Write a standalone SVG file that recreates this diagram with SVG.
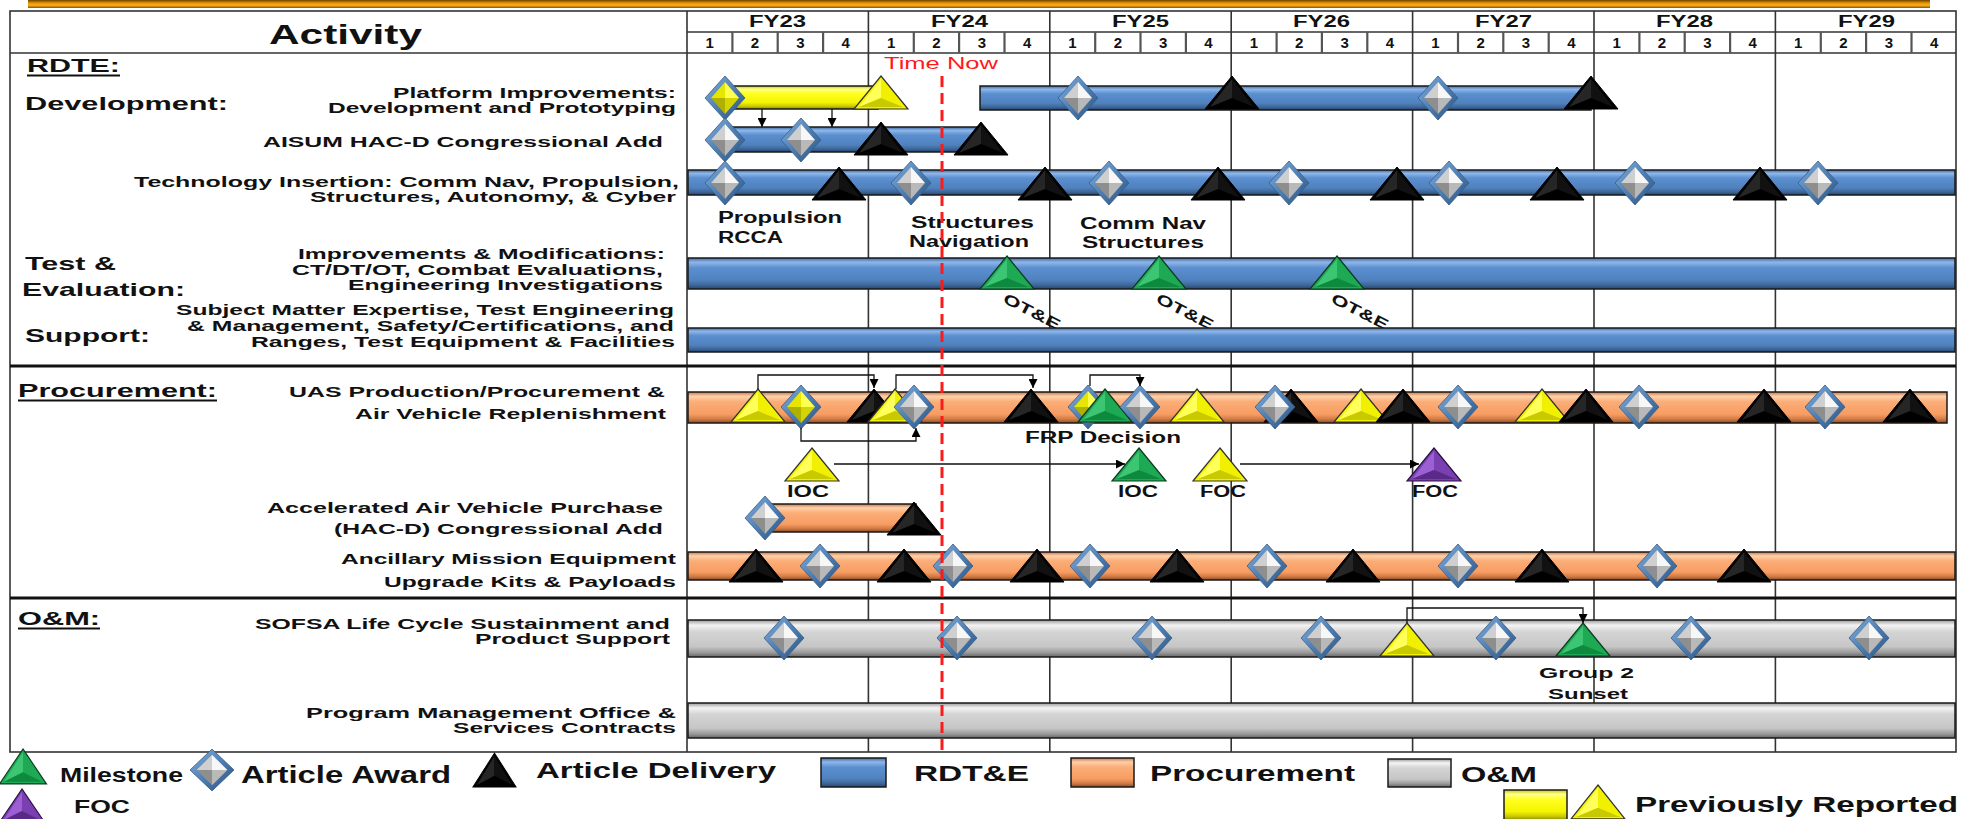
<svg xmlns="http://www.w3.org/2000/svg" xmlns:xlink="http://www.w3.org/1999/xlink" width="1988" height="819" viewBox="0 0 1988 819">
<style>
.t{font-family:"Liberation Sans",Arial,sans-serif;font-weight:bold;fill:#111}
.r{font-family:"Liberation Sans",Arial,sans-serif;fill:#ff1a1a}
.s14{font-size:14px}.s15{font-size:15px}.s16{font-size:16px}.s18{font-size:18px}.s19{font-size:19px}.s20{font-size:20px}.s22{font-size:22px}.s24{font-size:24px}.s27{font-size:27px}
.bar{stroke:#1a1a1a;stroke-width:1.5}
.grid{stroke:#333;stroke-width:1.6;fill:none}
.qd{stroke:#555;stroke-width:2.2}
.div{stroke:#111;stroke-width:3}
.con{stroke:#111;stroke-width:1.3;fill:none}
</style>
<defs>
<linearGradient id="gBlue" x1="0" y1="0" x2="0" y2="1"><stop offset="0" stop-color="#3f6ea8"/><stop offset="0.14" stop-color="#8fb6e8"/><stop offset="0.32" stop-color="#5b8fd0"/><stop offset="0.72" stop-color="#4f81bd"/><stop offset="0.88" stop-color="#3d6697"/><stop offset="1" stop-color="#23446e"/></linearGradient>
<linearGradient id="gOr" x1="0" y1="0" x2="0" y2="1"><stop offset="0" stop-color="#c8784a"/><stop offset="0.14" stop-color="#ffd0a8"/><stop offset="0.32" stop-color="#fbad78"/><stop offset="0.72" stop-color="#f79d62"/><stop offset="0.88" stop-color="#cf7a45"/><stop offset="1" stop-color="#8a4a22"/></linearGradient>
<linearGradient id="gGr" x1="0" y1="0" x2="0" y2="1"><stop offset="0" stop-color="#9a9a9a"/><stop offset="0.14" stop-color="#f4f4f4"/><stop offset="0.32" stop-color="#d4d4d4"/><stop offset="0.72" stop-color="#c6c6c6"/><stop offset="0.88" stop-color="#9a9a9a"/><stop offset="1" stop-color="#666"/></linearGradient>
<linearGradient id="gYe" x1="0" y1="0" x2="0" y2="1"><stop offset="0" stop-color="#c8c800"/><stop offset="0.14" stop-color="#ffff90"/><stop offset="0.32" stop-color="#ffff20"/><stop offset="0.72" stop-color="#f4f400"/><stop offset="0.88" stop-color="#c8c800"/><stop offset="1" stop-color="#8a8a00"/></linearGradient>
<linearGradient id="gTop" x1="0" y1="0" x2="0" y2="1"><stop offset="0" stop-color="#6b4300"/><stop offset="0.35" stop-color="#e09000"/><stop offset="0.65" stop-color="#ffb020"/><stop offset="1" stop-color="#8a5500"/></linearGradient>
<linearGradient id="gEdge" x1="0" y1="0" x2="1" y2="1"><stop offset="0" stop-color="#86b0de"/><stop offset="0.5" stop-color="#4f7fb3"/><stop offset="1" stop-color="#2a5080"/></linearGradient>
<g id="dia"><polygon points="0,-22 20,0 0,22 -20,0" fill="url(#gEdge)" stroke="#355d88" stroke-width="0.8"/><polygon points="0,-16 -14,0 0,0" fill="#cfcfcf"/><polygon points="0,-16 14,0 0,0" fill="#f7f7f7"/><polygon points="-14,0 0,16 0,0" fill="#8e8e8e"/><polygon points="14,0 0,16 0,0" fill="#b9b9b9"/></g>
<g id="diaY"><polygon points="0,-22 20,0 0,22 -20,0" fill="url(#gEdge)" stroke="#355d88" stroke-width="0.8"/><polygon points="0,-16 -14,0 0,0" fill="#e6e600"/><polygon points="0,-16 14,0 0,0" fill="#ffff50"/><polygon points="-14,0 0,16 0,0" fill="#b0b000"/><polygon points="14,0 0,16 0,0" fill="#d4d400"/></g>
<g id="triK"><polygon points="0,0 27,33 -27,33" fill="#000" stroke="#000" stroke-width="1"/><polygon points="0,3 -22,31 0,22" fill="#262626"/><polygon points="0,3 22,31 0,22" fill="#111"/></g>
<g id="triY"><polygon points="0,0 27,33 -27,33" fill="#f2f200" stroke="#333" stroke-width="1.2"/><polygon points="0,3 -22,31 0,22" fill="#ffff5a"/><polygon points="0,3 22,31 0,22" fill="#f0f000"/><polygon points="-22,31 22,31 0,22" fill="#c9c900"/></g>
<g id="triG"><polygon points="0,0 27,33 -27,33" fill="#1fa855" stroke="#0c3c1e" stroke-width="1.2"/><polygon points="0,3 -22,31 0,22" fill="#3cc673"/><polygon points="0,3 22,31 0,22" fill="#1eaa54"/><polygon points="-22,31 22,31 0,22" fill="#0e8a3e"/></g>
<g id="triP"><polygon points="0,0 27,33 -27,33" fill="#7a3fb0" stroke="#2a1040" stroke-width="1.2"/><polygon points="0,3 -22,31 0,22" fill="#9c60d4"/><polygon points="0,3 22,31 0,22" fill="#7a3fb0"/><polygon points="-22,31 22,31 0,22" fill="#5a2a88"/></g>
<marker id="arr" viewBox="0 0 10 10" refX="10" refY="5" markerWidth="9" markerHeight="9" markerUnits="userSpaceOnUse" orient="auto"><path d="M0,0 L10,5 L0,10 z" fill="#000"/></marker>
</defs>
<rect width="1988" height="819" fill="#fff"/>
<rect x="28" y="0" width="1902" height="8" fill="url(#gTop)"/>

<g id="grid">
<rect x="10" y="11" width="1946" height="741" class="grid"/>
<line x1="687" y1="32" x2="1956" y2="32" class="grid"/>
<line x1="10" y1="53" x2="1956" y2="53" class="grid"/>
<line x1="687" y1="11" x2="687" y2="752" class="grid"/>
<line x1="868.4" y1="11" x2="868.4" y2="752" class="grid"/>
<line x1="1049.8" y1="11" x2="1049.8" y2="752" class="grid"/>
<line x1="1231.2" y1="11" x2="1231.2" y2="752" class="grid"/>
<line x1="1412.6" y1="11" x2="1412.6" y2="752" class="grid"/>
<line x1="1594" y1="11" x2="1594" y2="752" class="grid"/>
<line x1="1775.4" y1="11" x2="1775.4" y2="752" class="grid"/>
<g class="qd">
<line x1="732.4" y1="32" x2="732.4" y2="53"/><line x1="777.7" y1="32" x2="777.7" y2="53"/><line x1="823.1" y1="32" x2="823.1" y2="53"/>
<line x1="913.8" y1="32" x2="913.8" y2="53"/><line x1="959.1" y1="32" x2="959.1" y2="53"/><line x1="1004.5" y1="32" x2="1004.5" y2="53"/>
<line x1="1095.2" y1="32" x2="1095.2" y2="53"/><line x1="1140.5" y1="32" x2="1140.5" y2="53"/><line x1="1185.9" y1="32" x2="1185.9" y2="53"/>
<line x1="1276.6" y1="32" x2="1276.6" y2="53"/><line x1="1321.9" y1="32" x2="1321.9" y2="53"/><line x1="1367.3" y1="32" x2="1367.3" y2="53"/>
<line x1="1458" y1="32" x2="1458" y2="53"/><line x1="1503.3" y1="32" x2="1503.3" y2="53"/><line x1="1548.7" y1="32" x2="1548.7" y2="53"/>
<line x1="1639.4" y1="32" x2="1639.4" y2="53"/><line x1="1684.7" y1="32" x2="1684.7" y2="53"/><line x1="1730.1" y1="32" x2="1730.1" y2="53"/>
<line x1="1820.8" y1="32" x2="1820.8" y2="53"/><line x1="1866.1" y1="32" x2="1866.1" y2="53"/><line x1="1911.5" y1="32" x2="1911.5" y2="53"/>
</g>
<line x1="10" y1="366" x2="1956" y2="366" class="div"/>
<line x1="10" y1="598" x2="1956" y2="598" class="div"/>
</g>

<g id="header">
<text class="t s27" x="269" y="44" textLength="153" lengthAdjust="spacingAndGlyphs">Activity</text>
<text class="t s16" x="749" y="27" textLength="57" lengthAdjust="spacingAndGlyphs">FY23</text>
<text class="t s16" x="931" y="27" textLength="57" lengthAdjust="spacingAndGlyphs">FY24</text>
<text class="t s16" x="1112" y="27" textLength="57" lengthAdjust="spacingAndGlyphs">FY25</text>
<text class="t s16" x="1293" y="27" textLength="57" lengthAdjust="spacingAndGlyphs">FY26</text>
<text class="t s16" x="1475" y="27" textLength="57" lengthAdjust="spacingAndGlyphs">FY27</text>
<text class="t s16" x="1656" y="27" textLength="57" lengthAdjust="spacingAndGlyphs">FY28</text>
<text class="t s16" x="1838" y="27" textLength="57" lengthAdjust="spacingAndGlyphs">FY29</text>
<g class="t s15" text-anchor="middle">
<text x="709.7" y="48">1</text><text x="755" y="48">2</text><text x="800.4" y="48">3</text><text x="845.7" y="48">4</text>
<text x="891.1" y="48">1</text><text x="936.4" y="48">2</text><text x="981.8" y="48">3</text><text x="1027.1" y="48">4</text>
<text x="1072.5" y="48">1</text><text x="1117.8" y="48">2</text><text x="1163.2" y="48">3</text><text x="1208.5" y="48">4</text>
<text x="1253.9" y="48">1</text><text x="1299.2" y="48">2</text><text x="1344.6" y="48">3</text><text x="1389.9" y="48">4</text>
<text x="1435.3" y="48">1</text><text x="1480.6" y="48">2</text><text x="1526" y="48">3</text><text x="1571.3" y="48">4</text>
<text x="1616.7" y="48">1</text><text x="1662" y="48">2</text><text x="1707.4" y="48">3</text><text x="1752.7" y="48">4</text>
<text x="1798.1" y="48">1</text><text x="1843.4" y="48">2</text><text x="1888.8" y="48">3</text><text x="1934.1" y="48">4</text>
</g>
</g>

<g id="section-labels">
<text class="t s19" x="27" y="72" textLength="93" lengthAdjust="spacingAndGlyphs">RDTE:</text>
<line x1="27" y1="75.5" x2="120" y2="75.5" stroke="#111" stroke-width="1.8"/>
<text class="t s19" x="25" y="110" textLength="203" lengthAdjust="spacingAndGlyphs">Development:</text>
<text class="t s19" x="25" y="270" textLength="91" lengthAdjust="spacingAndGlyphs">Test &amp;</text>
<text class="t s19" x="22" y="296" textLength="163" lengthAdjust="spacingAndGlyphs">Evaluation:</text>
<text class="t s19" x="25" y="342" textLength="125" lengthAdjust="spacingAndGlyphs">Support:</text>
<text class="t s19" x="18" y="397" textLength="199" lengthAdjust="spacingAndGlyphs">Procurement:</text>
<line x1="18" y1="400.5" x2="217" y2="400.5" stroke="#111" stroke-width="1.8"/>
<text class="t s19" x="18" y="625" textLength="82" lengthAdjust="spacingAndGlyphs">O&amp;M:</text>
<line x1="18" y1="628.5" x2="100" y2="628.5" stroke="#111" stroke-width="1.8"/>
</g>

<g id="row-platform">
<text class="t s15" x="393" y="98" textLength="283" lengthAdjust="spacingAndGlyphs">Platform Improvements:</text>
<text class="t s15" x="328" y="113" textLength="348" lengthAdjust="spacingAndGlyphs">Development and Prototyping</text>
<rect class="bar" x="726" y="86" width="152" height="23" fill="url(#gYe)"/>
<rect class="bar" x="980" y="86" width="611" height="24" fill="url(#gBlue)"/>
</g>
<g id="row-aisum">
<text class="t s15" x="263" y="147" textLength="400" lengthAdjust="spacingAndGlyphs">AISUM HAC-D Congressional Add</text>
<rect class="bar" x="726" y="127" width="255" height="25" fill="url(#gBlue)"/>
</g>
<g id="row-tech">
<text class="t s15" x="134" y="186.5" textLength="545" lengthAdjust="spacingAndGlyphs">Technology Insertion: Comm Nav, Propulsion,</text>
<text class="t s15" x="310" y="201.5" textLength="366" lengthAdjust="spacingAndGlyphs">Structures, Autonomy, &amp; Cyber</text>
<rect class="bar" x="688" y="170" width="1267" height="25" fill="url(#gBlue)"/>
<text class="t s16" x="718" y="223" textLength="124" lengthAdjust="spacingAndGlyphs">Propulsion</text>
<text class="t s16" x="718" y="243" textLength="65" lengthAdjust="spacingAndGlyphs">RCCA</text>
<text class="t s16" x="911" y="228" textLength="123" lengthAdjust="spacingAndGlyphs">Structures</text>
<text class="t s16" x="909" y="247" textLength="120" lengthAdjust="spacingAndGlyphs">Navigation</text>
<text class="t s16" x="1080" y="229" textLength="126" lengthAdjust="spacingAndGlyphs">Comm Nav</text>
<text class="t s16" x="1082" y="248" textLength="122" lengthAdjust="spacingAndGlyphs">Structures</text>
</g>
<g id="row-test">
<text class="t s15" x="298" y="258.5" textLength="367" lengthAdjust="spacingAndGlyphs">Improvements &amp; Modifications:</text>
<text class="t s15" x="292" y="274.5" textLength="371" lengthAdjust="spacingAndGlyphs">CT/DT/OT, Combat Evaluations,</text>
<text class="t s15" x="348" y="290" textLength="315" lengthAdjust="spacingAndGlyphs">Engineering Investigations</text>
<rect class="bar" x="688" y="258" width="1267" height="31" fill="url(#gBlue)"/>
<text class="t s15" transform="translate(1002,302) rotate(27)" textLength="62" lengthAdjust="spacingAndGlyphs">OT&amp;E</text>
<text class="t s15" transform="translate(1155,302) rotate(27)" textLength="62" lengthAdjust="spacingAndGlyphs">OT&amp;E</text>
<text class="t s15" transform="translate(1330,302) rotate(27)" textLength="62" lengthAdjust="spacingAndGlyphs">OT&amp;E</text>
</g>
<g id="row-support">
<text class="t s15" x="176" y="315" textLength="498" lengthAdjust="spacingAndGlyphs">Subject Matter Expertise, Test Engineering</text>
<text class="t s15" x="187" y="330.5" textLength="487" lengthAdjust="spacingAndGlyphs">&amp; Management, Safety/Certifications, and</text>
<text class="t s15" x="251" y="346.5" textLength="424" lengthAdjust="spacingAndGlyphs">Ranges, Test Equipment &amp; Facilities</text>
<rect class="bar" x="688" y="328" width="1267" height="24" fill="url(#gBlue)"/>
</g>
<g id="row-uas">
<text class="t s15" x="289" y="397" textLength="376" lengthAdjust="spacingAndGlyphs">UAS Production/Procurement &amp;</text>
<text class="t s15" x="355" y="419" textLength="311" lengthAdjust="spacingAndGlyphs">Air Vehicle Replenishment</text>
<rect class="bar" x="688" y="392" width="1259" height="31" fill="url(#gOr)"/>
<text class="t s16" x="1025" y="443" textLength="156" lengthAdjust="spacingAndGlyphs">FRP Decision</text>
<text class="t s16" x="787" y="497" textLength="42" lengthAdjust="spacingAndGlyphs">IOC</text>
<text class="t s16" x="1118" y="497" textLength="40" lengthAdjust="spacingAndGlyphs">IOC</text>
<text class="t s16" x="1200" y="497" textLength="46" lengthAdjust="spacingAndGlyphs">FOC</text>
<text class="t s16" x="1412" y="497" textLength="46" lengthAdjust="spacingAndGlyphs">FOC</text>
</g>
<g id="row-accel">
<text class="t s15" x="267" y="513" textLength="396" lengthAdjust="spacingAndGlyphs">Accelerated Air Vehicle Purchase</text>
<text class="t s15" x="334" y="534" textLength="329" lengthAdjust="spacingAndGlyphs">(HAC-D) Congressional Add</text>
<rect class="bar" x="766" y="504" width="150" height="28" fill="url(#gOr)"/>
</g>
<g id="row-ancillary">
<text class="t s15" x="341" y="564" textLength="335" lengthAdjust="spacingAndGlyphs">Ancillary Mission Equipment</text>
<text class="t s15" x="384" y="587" textLength="292" lengthAdjust="spacingAndGlyphs">Upgrade Kits &amp; Payloads</text>
<rect class="bar" x="688" y="552" width="1267" height="28" fill="url(#gOr)"/>
</g>
<g id="row-sofsa">
<text class="t s15" x="255" y="628.5" textLength="415" lengthAdjust="spacingAndGlyphs">SOFSA Life Cycle Sustainment and</text>
<text class="t s15" x="475" y="644" textLength="195" lengthAdjust="spacingAndGlyphs">Product Support</text>
<rect class="bar" x="688" y="620" width="1267" height="37" fill="url(#gGr)"/>
<text class="t s15" x="1539" y="678" textLength="95" lengthAdjust="spacingAndGlyphs">Group 2</text>
<text class="t s15" x="1548" y="699" textLength="80" lengthAdjust="spacingAndGlyphs">Sunset</text>
</g>
<g id="row-pmo">
<text class="t s15" x="306" y="717.5" textLength="370" lengthAdjust="spacingAndGlyphs">Program Management Office &amp;</text>
<text class="t s15" x="453" y="733" textLength="223" lengthAdjust="spacingAndGlyphs">Services Contracts</text>
<rect class="bar" x="688" y="703" width="1267" height="35" fill="url(#gGr)"/>
</g>

<g id="markers">
<g id="m-r1"><use href="#diaY" x="725" y="98"/><use href="#triY" x="881" y="76"/><use href="#dia" x="1078" y="98"/><use href="#triK" x="1232" y="76"/><use href="#dia" x="1438" y="98"/><use href="#triK" x="1591" y="76"/></g>
<g id="m-r2"><use href="#dia" x="725" y="140"/><use href="#dia" x="801" y="140"/><use href="#triK" x="881" y="122"/><use href="#triK" x="981" y="122"/></g>
<g id="m-r3"><use href="#dia" x="725" y="183"/><use href="#triK" x="839" y="167"/><use href="#dia" x="911" y="183"/><use href="#triK" x="1045" y="167"/><use href="#dia" x="1109" y="183"/><use href="#triK" x="1218" y="167"/><use href="#dia" x="1289" y="183"/><use href="#triK" x="1397" y="167"/><use href="#dia" x="1449" y="183"/><use href="#triK" x="1557" y="167"/><use href="#dia" x="1635" y="183"/><use href="#triK" x="1760" y="167"/><use href="#dia" x="1818" y="183"/></g>
<g id="m-r4"><use href="#triG" x="1007" y="256"/><use href="#triG" x="1159" y="256"/><use href="#triG" x="1337" y="256"/></g>
<g id="m-r6"><use href="#triY" x="758" y="389"/><use href="#diaY" x="801" y="407"/><use href="#triK" x="874" y="389"/><use href="#triY" x="895" y="389"/><use href="#dia" x="914" y="407"/><use href="#triK" x="1031" y="389"/><use href="#diaY" x="1088" y="407"/><use href="#triG" x="1105" y="389"/><use href="#dia" x="1140" y="407"/><use href="#triY" x="1197" y="389"/><use href="#triK" x="1291" y="389"/><use href="#dia" x="1275" y="407"/><use href="#triY" x="1361" y="389"/><use href="#triK" x="1403" y="389"/><use href="#dia" x="1458" y="407"/><use href="#triY" x="1542" y="389"/><use href="#triK" x="1586" y="389"/><use href="#dia" x="1639" y="407"/><use href="#triK" x="1764" y="389"/><use href="#dia" x="1825" y="407"/><use href="#triK" x="1910" y="389"/></g>
<g id="m-ioc"><use href="#triY" x="812" y="448"/><use href="#triG" x="1139" y="448"/><use href="#triY" x="1220" y="448"/><use href="#triP" x="1434" y="448"/></g>
<g id="m-r7"><use href="#dia" x="765" y="518"/><use href="#triK" x="914" y="502"/></g>
<g id="m-r8"><use href="#triK" x="756" y="549"/><use href="#dia" x="820" y="566"/><use href="#triK" x="904" y="549"/><use href="#dia" x="953" y="566"/><use href="#triK" x="1037" y="549"/><use href="#dia" x="1090" y="566"/><use href="#triK" x="1177" y="549"/><use href="#dia" x="1267" y="566"/><use href="#triK" x="1353" y="549"/><use href="#dia" x="1458" y="566"/><use href="#triK" x="1542" y="549"/><use href="#dia" x="1657" y="566"/><use href="#triK" x="1744" y="549"/></g>
<g id="m-r9"><use href="#dia" x="784" y="638"/><use href="#dia" x="957" y="638"/><use href="#dia" x="1152" y="638"/><use href="#dia" x="1321" y="638"/><use href="#triY" x="1407" y="623"/><use href="#dia" x="1496" y="638"/><use href="#triG" x="1583" y="623"/><use href="#dia" x="1691" y="638"/><use href="#dia" x="1869" y="638"/></g>
</g>

<g id="connectors">
<line x1="762" y1="109" x2="762" y2="127" class="con" marker-end="url(#arr)"/>
<line x1="832" y1="109" x2="832" y2="127" class="con" marker-end="url(#arr)"/>
<polyline points="758,389 758,375 874,375 874,388" class="con" marker-end="url(#arr)"/>
<polyline points="896,389 896,375 1033,375 1033,388" class="con" marker-end="url(#arr)"/>
<polyline points="1090,386 1090,375 1140,375 1140,386" class="con" marker-end="url(#arr)"/>
<polyline points="801,428 801,441 916,441 916,428" class="con" marker-end="url(#arr)"/>
<line x1="834" y1="464" x2="1125" y2="464" class="con" marker-end="url(#arr)"/>
<line x1="1240" y1="464" x2="1419" y2="464" class="con" marker-end="url(#arr)"/>
<polyline points="1407,623 1407,608 1583,608 1583,623" class="con" marker-end="url(#arr)"/>
</g>

<g id="timenow">
<text class="r s16" x="884" y="69" textLength="114" lengthAdjust="spacingAndGlyphs">Time Now</text>
<line x1="942" y1="76" x2="942" y2="752" stroke="#ff1a1a" stroke-width="3" stroke-dasharray="11,6"/>
</g>

<g id="legend">
<g id="lg-milestone"><use href="#triG" transform="translate(23,749) scale(0.87,1.06)"/><text class="t s20" x="60" y="782" textLength="123" lengthAdjust="spacingAndGlyphs">Milestone</text></g>
<g id="lg-award"><use href="#dia" transform="translate(212,770) scale(1.1,0.95)"/><text class="t s24" x="241" y="783" textLength="210" lengthAdjust="spacingAndGlyphs">Article Award</text></g>
<g id="lg-delivery"><use href="#triK" transform="translate(494.5,753) scale(0.8,1.03)"/><text class="t s22" x="536" y="778" textLength="240" lengthAdjust="spacingAndGlyphs">Article Delivery</text></g>
<g id="lg-rdte"><rect class="bar" x="821" y="758" width="65" height="29" fill="url(#gBlue)"/><text class="t s22" x="914" y="781" textLength="115" lengthAdjust="spacingAndGlyphs">RDT&amp;E</text></g>
<g id="lg-proc"><rect class="bar" x="1071" y="758" width="63" height="29" fill="url(#gOr)"/><text class="t s22" x="1150" y="781" textLength="205" lengthAdjust="spacingAndGlyphs">Procurement</text></g>
<g id="lg-om"><rect class="bar" x="1388" y="759" width="63" height="28" fill="url(#gGr)"/><text class="t s22" x="1461" y="782" textLength="76" lengthAdjust="spacingAndGlyphs">O&amp;M</text></g>
<g id="lg-foc"><use href="#triP" transform="translate(22,789) scale(0.83,1)"/><text class="t s18" x="74" y="813" textLength="56" lengthAdjust="spacingAndGlyphs">FOC</text></g>
<g id="lg-prev"><rect class="bar" x="1504" y="790" width="63" height="30" fill="url(#gYe)"/><use href="#triY" transform="translate(1598,785) scale(1,1.03)"/><text class="t s22" x="1635" y="812" textLength="323" lengthAdjust="spacingAndGlyphs">Previously Reported</text></g>
</g>
</svg>
